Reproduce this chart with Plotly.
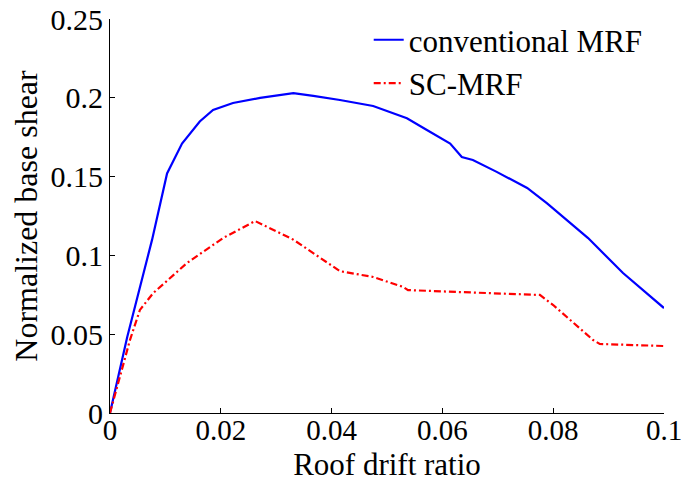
import plotly.graph_objects as go

# Conventional MRF pushover curve
conv_x = [0.0, 0.0031, 0.0076, 0.0103, 0.0130, 0.0162, 0.0186, 0.0222, 0.0271, 0.0331,
          0.0367, 0.0415, 0.0475, 0.0536, 0.0572, 0.0614, 0.0635, 0.0655, 0.0698, 0.0753,
          0.0789, 0.0825, 0.0863, 0.0926, 0.1000]
conv_y = [0.0, 0.048, 0.110, 0.152, 0.171, 0.185, 0.1923, 0.1967, 0.1999, 0.203,
          0.2012, 0.1986, 0.1948, 0.187, 0.1796, 0.171, 0.1624, 0.1605, 0.153, 0.1428,
          0.133, 0.1225, 0.111, 0.0888, 0.0666]

# SC-MRF pushover curve
sc_x = [0.0, 0.0036, 0.0054, 0.0078, 0.0139, 0.0204, 0.0262, 0.0331, 0.0415, 0.0475,
        0.0529, 0.0538, 0.0626, 0.0704, 0.0776, 0.0800, 0.0836, 0.0872, 0.0884, 0.0957, 0.1000]
sc_y = [0.0, 0.0463, 0.0654, 0.0761, 0.0952, 0.111, 0.1218, 0.110, 0.0900, 0.0863,
        0.0800, 0.0780, 0.0768, 0.0760, 0.0749, 0.0685, 0.0577, 0.0463, 0.0438, 0.0431, 0.0425]

x_ticks = [0, 0.02, 0.04, 0.06, 0.08, 0.1]
x_tick_labels = ["0", "0.02", "0.04", "0.06", "0.08", "0.1"]
y_ticks = [0, 0.05, 0.1, 0.15, 0.2, 0.25]
y_tick_labels = ["0", "0.05", "0.1", "0.15", "0.2", "0.25"]

FONT = "Liberation Serif, Times New Roman, serif"

fig = go.Figure()
fig.add_trace(go.Scatter(x=conv_x, y=conv_y, mode="lines", name="conventional MRF",
                         line=dict(color="#0000ff", width=2.2)))
fig.add_trace(go.Scatter(x=sc_x, y=sc_y, mode="lines", name="SC-MRF",
                         line=dict(color="#ff0000", width=2.2, dash="7px,3px,2px,3px")))

axis_common = dict(
    showline=True, linecolor="black", linewidth=1,
    ticks="inside", ticklen=5, tickcolor="black", tickwidth=1,
    showgrid=False, zeroline=False, mirror=False, automargin=False,
    ticklabeloverflow="allow",
)

fig.update_layout(
    width=681, height=482,
    margin=dict(l=110, r=17, t=19, b=69),
    paper_bgcolor="white", plot_bgcolor="white",
    font=dict(family=FONT, size=30, color="black"),
    xaxis=dict(range=[0, 0.1000001], tickvals=x_ticks, ticktext=x_tick_labels,
               ticklabelstandoff=-9,
               tickfont=dict(family=FONT, size=29, color="black"),
               title=dict(text="Roof drift ratio", font=dict(family=FONT, size=31), standoff=10),
               **axis_common),
    yaxis=dict(range=[0, 0.2500001], tickvals=y_ticks, ticktext=y_tick_labels,
               tickfont=dict(family=FONT, size=30, color="black"),
               title=dict(text="Normalized base shear", font=dict(family=FONT, size=32), standoff=3),
               **axis_common),
    legend=dict(x=0.467, y=1.015, xanchor="left", yanchor="top",
                bgcolor="rgba(0,0,0,0)", borderwidth=0,
                font=dict(family=FONT, size=31, color="black"),
                tracegroupgap=0),
    showlegend=True,
)

fig.write_html("out.html")
